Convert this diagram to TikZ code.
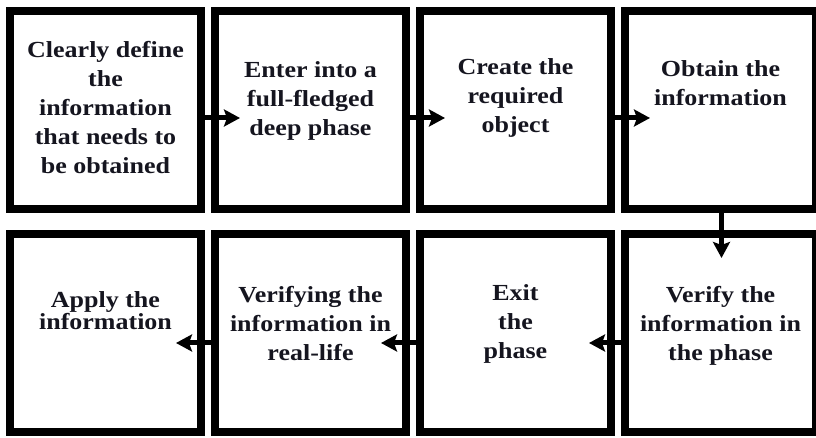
\documentclass[tikz,border=0pt]{standalone}
\usepackage{fontspec}
\setmainfont{Liberation Serif}[FakeStretch=1.13]
\usepackage{tikz}
\usetikzlibrary{matrix, arrows.meta}
\definecolor{ink}{HTML}{15151F}
\tikzset{
  stage/.style={draw=black, line width=8pt, rectangle, minimum width=191pt, minimum height=198pt, inner sep=0pt, outer sep=0pt},
  steptext/.style={align=center, text=ink, inner sep=0pt, font=\fontsize{23}{29}\selectfont\bfseries},
  flow/.style={draw=black, line width=5pt, -{Stealth[length=16pt,width=17pt,inset=3pt]}}
}

\begin{document}
\begin{tikzpicture}[x=1pt, y=1pt]
        \useasboundingbox[fill=white] (0,0) rectangle (816,438);
        \matrix[
            matrix of nodes,
            nodes in empty cells,
            nodes={stage},
            row sep=17pt,
            column sep=6pt,
            ] (m) at (413,216.5)
            {
                & & & \\
                & & & \\
            };
            % first row, left to right
            \node[steptext] (t11) at ([yshift=2]m-1-1)  {Clearly define\\the\\information\\that needs to\\be obtained};
            \node[steptext] (t12) at ([yshift=9]m-1-2)  {Enter into a\\full-fledged\\deep phase};
            \node[steptext] (t13) at ([yshift=12]m-1-3) {Create the\\required\\object};
            \node[steptext] (t14) at ([yshift=27]m-1-4) {Obtain the\\information};
            % second row, right to left
            \node[steptext] (t24) at ([yshift=7]m-2-4)  {Verify the\\information in\\the phase};
            \node[steptext] (t23) at ([yshift=9]m-2-3)  {Exit\\the\\phase};
            \node[steptext] (t22) at ([yshift=9]m-2-2)  {Verifying the\\information in\\real-life};
            \node[steptext] (t21) at ([yshift=22]m-2-1) {Apply the\\[-7pt]information};

            \draw[flow]     ([yshift=-8]m-1-1.east)  --  ([xshift=25,yshift=-8]m-1-2.west);
            \draw[flow]     ([yshift=-8]m-1-2.east)  --  ([xshift=25,yshift=-8]m-1-3.west);
            \draw[flow]     ([yshift=-8]m-1-3.east)  --  ([xshift=25,yshift=-8]m-1-4.west);
            \draw[flow]     ([xshift=1]m-1-4.south)  --  ([xshift=1,yshift=-24]m-2-4.north);
            \draw[flow]     ([yshift=-10]m-2-4.west) --  ([xshift=-22,yshift=-10]m-2-3.east);
            \draw[flow]     ([yshift=-10]m-2-3.west) --  ([xshift=-25,yshift=-10]m-2-2.east);
            \draw[flow]     ([yshift=-10]m-2-2.west) --  ([xshift=-25,yshift=-10]m-2-1.east);
\end{tikzpicture}
\end{document}
